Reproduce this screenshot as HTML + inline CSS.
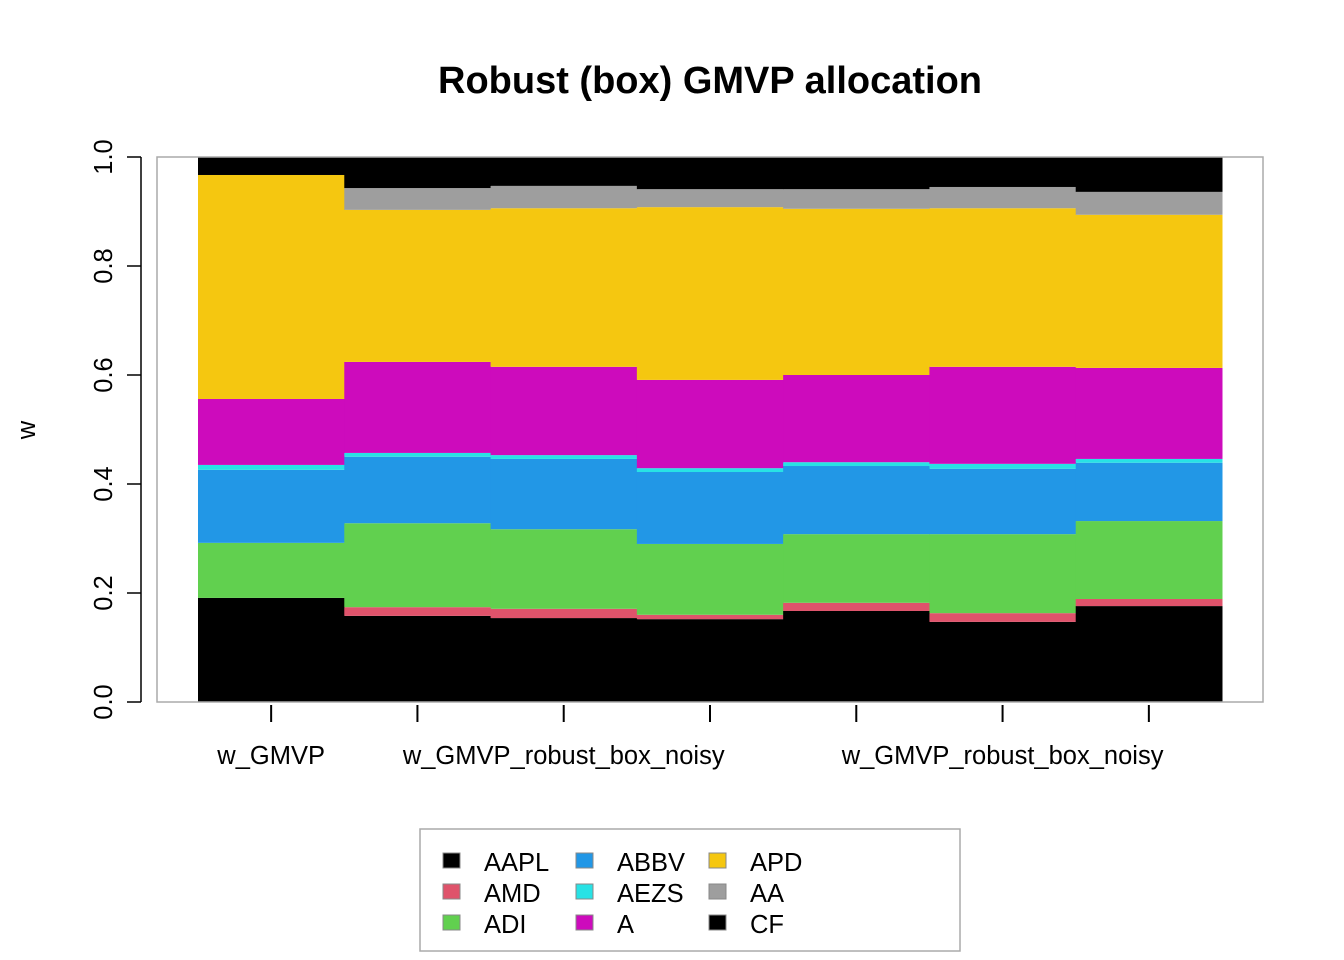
<!DOCTYPE html>
<html><head><meta charset="utf-8"><style>
body{margin:0;background:#fff;}
svg{display:block;font-family:"Liberation Sans",Arial,sans-serif;}
</style></head><body>
<svg id="chart" width="1344" height="960">
<text x="710" y="93" text-anchor="middle" font-size="38" font-weight="bold">Robust (box) GMVP allocation</text>
<g id="bars"></g>
<rect x="157" y="157" width="1106" height="545" fill="none" stroke="#aaa" stroke-width="1.5"/>
<g id="yaxis"></g>
<g id="xaxis"></g>
<text x="35" y="430" transform="rotate(-90 35 430)" text-anchor="middle" font-size="25.5">w</text>
<g id="legend"></g>
</svg>
<script>
const assets=["AAPL","AMD","ADI","ABBV","AEZS","A","APD","AA","CF"];
const colors=["#000000","#DF536B","#61D04F","#2297E6","#28E2E5","#CD0BBC","#F5C710","#9E9E9E","#000000"];
const xLabels=["w_GMVP","","w_GMVP_robust_box_noisy","","","w_GMVP_robust_box_noisy",""];
const yTicks=[0,0.2,0.4,0.6,0.8,1.0];
// weights per bar, order: AAPL, AMD, ADI, ABBV, AEZS, A, APD, AA, CF
const bar1=[0.191,0.000,0.101,0.134,0.009,0.121,0.411,0.000,0.033];
const bar2=[0.158,0.016,0.154,0.122,0.007,0.167,0.279,0.040,0.057];
const bar3=[0.154,0.017,0.146,0.129,0.007,0.162,0.291,0.041,0.053];
const bar4=[0.152,0.008,0.130,0.132,0.007,0.162,0.317,0.033,0.059];
const bar5=[0.167,0.015,0.126,0.125,0.007,0.160,0.305,0.036,0.059];
const bar6=[0.147,0.016,0.145,0.120,0.009,0.178,0.291,0.039,0.055];
const bar7=[0.176,0.013,0.143,0.107,0.007,0.167,0.281,0.042,0.064];
const bars=[bar1,bar2,bar3,bar4,bar5,bar6,bar7];
const NS="http://www.w3.org/2000/svg";
const x0=198,x1=1222,bw=(x1-x0)/bars.length;
const yS=v=>702-v*545;
function mk(t,a,p){const e=document.createElementNS(NS,t);for(const k in a)e.setAttribute(k,a[k]);p.appendChild(e);return e;}
const gB=document.getElementById("bars");
bars.forEach((b,i)=>{let c=0;b.forEach((w,j)=>{const r=mk("rect",{x:x0+i*bw,y:yS(c+w),width:bw+0.5,height:Math.max(0,yS(c)-yS(c+w)),fill:colors[j]},gB);


c+=w;});});
const gY=document.getElementById("yaxis");
mk("line",{x1:141,x2:141,y1:yS(0),y2:yS(1),stroke:"#000","stroke-width":1.5},gY);
yTicks.forEach(v=>{mk("line",{x1:127,x2:141,y1:yS(v),y2:yS(v),stroke:"#000","stroke-width":1.5},gY);
const t=mk("text",{x:112,y:yS(v),transform:`rotate(-90 112 ${yS(v)})`,"text-anchor":"middle","font-size":25.5},gY);t.textContent=v.toFixed(1);

});
const gX=document.getElementById("xaxis");
xLabels.forEach((l,i)=>{const cx=x0+(i+0.5)*bw;mk("line",{x1:cx,x2:cx,y1:705,y2:722,stroke:"#000","stroke-width":2},gX);
if(l){const t=mk("text",{x:cx,y:764,"text-anchor":"middle","font-size":25.5},gX);t.textContent=l;

}});
const gL=document.getElementById("legend");
mk("rect",{x:420,y:829,width:540,height:122,fill:"none",stroke:"#aaa","stroke-width":1.5},gL);
assets.forEach((a,k)=>{const col=Math.floor(k/3),row=k%3;const lx=443+col*133,ly=853+row*31;
const s=mk("rect",{x:lx,y:ly,width:17,height:15,fill:colors[k],stroke:"#888"},gL);


const t=mk("text",{x:lx+41,y:ly+18,"font-size":25.5},gL);t.textContent=a;

});
</script>
</body></html>
